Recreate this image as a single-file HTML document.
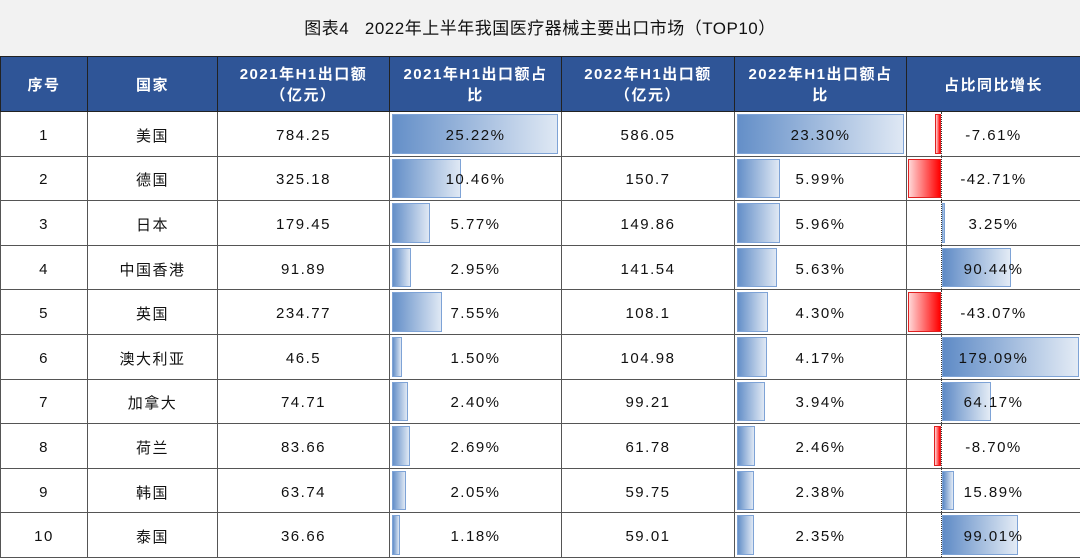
<!DOCTYPE html>
<html><head><meta charset="utf-8">
<style>
body{margin:0;width:1080px;height:558px;overflow:hidden;background:#fff;font-family:"Liberation Sans","Noto Sans CJK SC",sans-serif;}
.title{height:56px;background:#f2f2f2;text-align:center;font-size:17px;line-height:58px;color:#111;letter-spacing:0.5px}
table{border-collapse:collapse;table-layout:fixed;width:1080px;}
td,th{border:1.5px solid #555;padding:0;text-align:center;position:relative;font-size:15px;letter-spacing:1.5px;color:#111;}
th{background:#2f5597;color:#fff;font-weight:bold;height:52px;line-height:21px;border-color:#222;padding-top:2px;}
td{height:40.6px;padding-top:3px;}
.b{position:absolute;top:2px;bottom:2px;left:2px;background:linear-gradient(to right,#648fc8,#dfe8f4);border:1px solid #7ea3d6;box-sizing:border-box}
.p{position:absolute;top:2px;bottom:2px;left:35px;background:linear-gradient(to right,#5f8bc6,#e3ebf5);border:1px solid #7ea3d6;box-sizing:border-box}
.n{position:absolute;top:2px;bottom:2px;right:139px;background:linear-gradient(to right,#ffd6d6,#ff0000);border:1px solid #e02020;box-sizing:border-box}
.ax{position:absolute;top:0;bottom:0;left:34px;border-left:1px dotted #333}
span{position:relative}
</style></head><body>
<div class="title">图表4&nbsp;&nbsp; 2022年上半年我国医疗器械主要出口市场（TOP10）</div>
<table>
<colgroup><col style="width:87px"><col style="width:130px"><col style="width:172px"><col style="width:172px"><col style="width:173px"><col style="width:172px"><col style="width:174px"></colgroup>
<tr><th>序号</th><th>国家</th><th>2021年H1出口额<br>（亿元）</th><th>2021年H1出口额占<br>比</th><th>2022年H1出口额<br>（亿元）</th><th>2022年H1出口额占<br>比</th><th>占比同比增长</th></tr>
<tr><td>1</td><td>美国</td><td>784.25</td><td><div class="b" style="width:166px"></div><span>25.22%</span></td><td>586.05</td><td><div class="b" style="width:167px"></div><span>23.30%</span></td><td><div class="ax"></div><div class="n" style="width:6px"></div><span>-7.61%</span></td></tr>
<tr><td>2</td><td>德国</td><td>325.18</td><td><div class="b" style="width:69px"></div><span>10.46%</span></td><td>150.7</td><td><div class="b" style="width:43px"></div><span>5.99%</span></td><td><div class="ax"></div><div class="n" style="width:33px"></div><span>-42.71%</span></td></tr>
<tr><td>3</td><td>日本</td><td>179.45</td><td><div class="b" style="width:38px"></div><span>5.77%</span></td><td>149.86</td><td><div class="b" style="width:43px"></div><span>5.96%</span></td><td><div class="ax"></div><div class="p" style="width:3px"></div><span>3.25%</span></td></tr>
<tr><td>4</td><td>中国香港</td><td>91.89</td><td><div class="b" style="width:19px"></div><span>2.95%</span></td><td>141.54</td><td><div class="b" style="width:40px"></div><span>5.63%</span></td><td><div class="ax"></div><div class="p" style="width:69px"></div><span>90.44%</span></td></tr>
<tr><td>5</td><td>英国</td><td>234.77</td><td><div class="b" style="width:50px"></div><span>7.55%</span></td><td>108.1</td><td><div class="b" style="width:31px"></div><span>4.30%</span></td><td><div class="ax"></div><div class="n" style="width:33px"></div><span>-43.07%</span></td></tr>
<tr><td>6</td><td>澳大利亚</td><td>46.5</td><td><div class="b" style="width:10px"></div><span>1.50%</span></td><td>104.98</td><td><div class="b" style="width:30px"></div><span>4.17%</span></td><td><div class="ax"></div><div class="p" style="width:137px"></div><span>179.09%</span></td></tr>
<tr><td>7</td><td>加拿大</td><td>74.71</td><td><div class="b" style="width:16px"></div><span>2.40%</span></td><td>99.21</td><td><div class="b" style="width:28px"></div><span>3.94%</span></td><td><div class="ax"></div><div class="p" style="width:49px"></div><span>64.17%</span></td></tr>
<tr><td>8</td><td>荷兰</td><td>83.66</td><td><div class="b" style="width:18px"></div><span>2.69%</span></td><td>61.78</td><td><div class="b" style="width:18px"></div><span>2.46%</span></td><td><div class="ax"></div><div class="n" style="width:7px"></div><span>-8.70%</span></td></tr>
<tr><td>9</td><td>韩国</td><td>63.74</td><td><div class="b" style="width:14px"></div><span>2.05%</span></td><td>59.75</td><td><div class="b" style="width:17px"></div><span>2.38%</span></td><td><div class="ax"></div><div class="p" style="width:12px"></div><span>15.89%</span></td></tr>
<tr><td>10</td><td>泰国</td><td>36.66</td><td><div class="b" style="width:8px"></div><span>1.18%</span></td><td>59.01</td><td><div class="b" style="width:17px"></div><span>2.35%</span></td><td><div class="ax"></div><div class="p" style="width:76px"></div><span>99.01%</span></td></tr>
</table>
</body></html>
